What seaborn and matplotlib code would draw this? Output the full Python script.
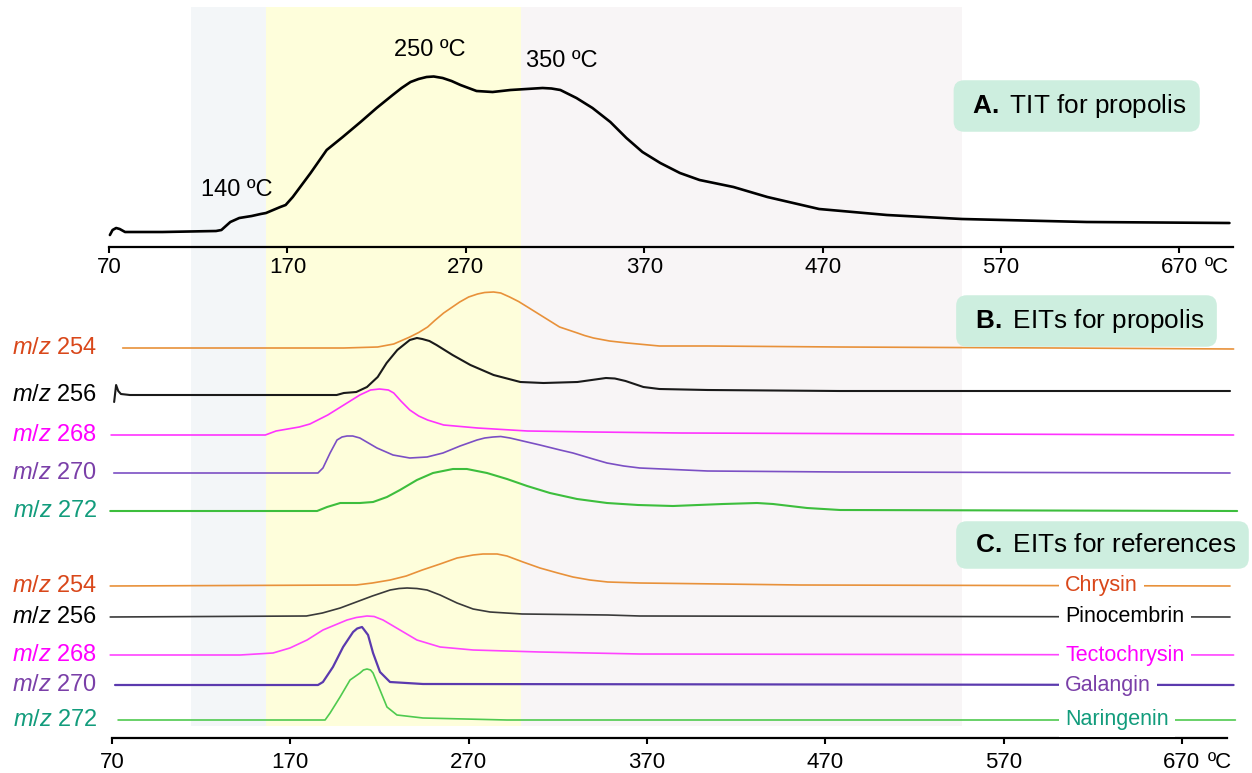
import numpy as np
import matplotlib
matplotlib.use("Agg")
import matplotlib.pyplot as plt
import seaborn as sns

# ---- A. TIT propolis (temperatura / intensywność) ----
tit_temp = [70.5, 72, 74, 76, 79, 100, 130, 133, 138, 143, 150, 155, 158, 162, 166,
            169, 173, 178, 183, 192, 201, 211, 220, 229, 234, 239, 243.5, 248, 252, 257,
            262, 267, 276, 285, 295, 304, 313, 318, 323, 332, 341, 351, 360, 369, 379,
            390, 401, 420, 439, 468, 487, 506, 548, 618, 698]
tit_int = [12, 17, 19, 18, 15, 15, 16, 17, 25, 29, 31, 33, 34, 37, 40,
           42, 50, 62, 74, 97, 110, 125, 139, 152, 159, 165, 168, 170, 170.5, 169,
           166, 162, 156, 155, 157, 158, 159, 158.5, 157, 149, 139, 125, 109, 95, 84,
           74, 67, 60, 50, 38, 35, 32, 28, 25, 24]

# ---- B. EIT propolis (intensywność względem własnej linii bazowej) ----
b254_temp = [76, 200, 219, 228, 237, 242, 247, 251, 256, 265, 270, 275, 279, 284, 288,
             293, 298, 303, 312, 321, 326, 331, 335, 340, 349, 359, 377, 404, 478, 600, 699]
b254_int = [0, 0, 1, 4, 11, 15.5, 21, 27.5, 35, 46, 51, 54, 55.5, 56, 55,
            51, 46.5, 41, 31, 21, 18, 15, 12.5, 10, 7, 5, 2, 2, 1, 0, -1]

b256_temp = [71.2, 72.3, 73.5, 75, 80, 196, 200, 207, 213, 219, 224, 230, 237, 241, 244,
             248, 252, 261, 271, 284, 299, 312, 331, 339, 347, 352, 358, 363, 368, 377,
             404, 478, 697]
b256_int = [-7, 10, 4, 1, 0, 0, 2, 3, 8, 18, 32, 45, 55, 57, 56,
            54, 50, 40, 30, 20, 13, 12, 13, 15, 17, 16.5, 14, 11, 8, 6,
            5, 4, 4]

b268_temp = [69.5, 156, 162, 175, 181, 191, 200, 209, 215, 220, 225, 228, 232, 237, 242,
             247, 256, 275, 303, 340, 389, 699]
b268_int = [0, 0, 4, 8, 11, 20, 30, 40, 45, 46, 45, 42, 34, 25, 19,
            15, 10, 7, 4, 3, 2, 0]

b270_temp = [71, 185.5, 188.3, 192.3, 196.2, 199, 201.8, 205, 209, 218.6, 227.6, 237,
             246.7, 255.6, 265.2, 274.7, 279, 283.7, 288, 293.2, 302.8, 310, 321.3, 328.5,
             339.8, 347.6, 357, 366, 404, 478, 697]
b270_int = [0, 0, 5, 20, 33, 36, 37, 37, 35, 25, 18, 15,
            16, 20, 27, 33, 35, 36, 36.5, 35, 31, 28, 23, 20,
            14, 10, 7, 5, 2, 1, 0]

b272_temp = [69, 185, 190.6, 198, 209, 216.4, 224.2, 231.5, 241, 250, 261.2, 269, 280.3,
             291.5, 302.8, 315.6, 330.8, 347.6, 365, 384.6, 412.7, 431.7, 440.7, 459.8,
             478.3, 701]
b272_int = [0, 0, 4, 8, 8, 9, 14, 21, 31, 38, 42, 42, 38, 32, 25, 18, 12, 8, 6, 5, 7, 8,
            7, 3, 1, 0]

# ---- C. EIT wzorców ----
c254_temp = [69, 207, 216, 226, 235, 244, 254, 263.5, 272.5, 278, 286, 291.5, 300.5, 310,
             320, 328.5, 338, 348, 366, 456, 697]
c254_int = [0, 1, 3, 6, 10, 16, 22, 28, 31, 32, 32, 30, 24, 18, 13, 9, 6, 4, 3, 1, 0]

c256_temp = [69, 179, 188, 198, 207, 216, 226, 231, 235.5, 241, 246.7, 254, 263.5, 272.5,
             282, 300, 348, 366, 697]
c256_int = [0, 1, 4, 9, 15, 21, 27, 28.5, 29, 28.5, 27, 22, 14, 8, 5, 3, 2, 1, 0]

c268_temp = [69, 141.8, 160.3, 169.8, 179.4, 188.3, 201.8, 207, 213, 217, 222, 231.5, 241,
             254, 272.5, 310, 366, 699]
c268_int = [0, 0, 2, 7, 15, 25, 35, 37.5, 39, 38.5, 35, 25, 15, 8, 5, 3, 1, 0]

c270_temp = [71.7, 185.5, 188.3, 193.9, 199.6, 205.2, 207.5, 210.2, 211.5, 213.6, 216.4,
             220.3, 225.9, 244.4, 699]
c270_int = [0, 0, 3, 18, 38, 53, 56.5, 58, 55, 50, 32, 13, 3, 1, 0]

c272_temp = [73.4, 189.5, 192.3, 197.9, 203.5, 209.1, 211, 213, 215, 216.4, 220.3, 224.2,
             229.8, 244.4, 291.5, 700]
c272_int = [0, 0, 7, 23, 40, 47, 50, 51, 50, 47, 30, 13, 5, 2, 0, 0]

mz_labels = ["254", "256", "268", "270", "272"]
compounds = ["Chrysin", "Pinocembrin", "Tectochrysin", "Galangin", "Naringenin"]
x_ticks = [70, 170, 270, 370, 470, 570, 670]
peak_notes = [(141.7, 57, "140 ºC"), (249.8, 197, "250 ºC"), (323.8, 186, "350 ºC")]
zones = [(116, 158, "#f3f6f8"), (158, 301, "#fefedb"), (301, 548, "#f8f5f6")]

# ---- styl ----
B_BASE = [390, 343, 303, 265, 227]
C_BASE = [152, 121, 83, 53, 18]
LINE_B = ["#e8913a", "#1a1a1a", "#ff33ff", "#7b4fc4", "#3dbe3d"]
LINE_C = ["#e8913a", "#3a3a3a", "#ff44ff", "#5b3aae", "#4fca4f"]
TEXT_COL = ["#d9471a", "#000000", "#ff00ff", "#7a3fa8", "#129c7c"]
BOX_COL = "#cdeedf"

sns.set_theme(style="white")
plt.rcParams["font.family"] = ["Liberation Sans", "DejaVu Sans"]
plt.rcParams["text.color"] = "black"
plt.rcParams["mathtext.fontset"] = "custom"
plt.rcParams["mathtext.rm"] = "Liberation Sans"
plt.rcParams["mathtext.it"] = "Liberation Sans:italic"
plt.rcParams["mathtext.bf"] = "Liberation Sans:bold"

W, H = 1252, 773
fig = plt.figure(figsize=(W / 100, H / 100), dpi=100)

# tło ze strefami temperatur (wspólne dla obu paneli)
ax_bg = fig.add_axes([109 / W, 47 / H, 1124 / W, 719 / H], zorder=0)
ax_bg.set_xlim(70, 700)
ax_bg.set_ylim(0, 1)
for x0, x1, col in zones:
    ax_bg.axvspan(x0, x1, color=col, lw=0)
ax_bg.axis("off")

ax_a = fig.add_axes([109 / W, 526 / H, 1124 / W, 240 / H], zorder=1)
ax_b = fig.add_axes([112 / W, 35 / H, 1115 / W, 463 / H], zorder=1)
ax_a.set_xlim(70, 700)
ax_a.set_ylim(0, 240)
ax_b.set_xlim(70, 695.3)
ax_b.set_ylim(0, 463)

TICK_LEN = 4
for ax, pad in [(ax_a, 3.5), (ax_b, 6)]:
    ax.patch.set_alpha(0)
    for s in ["left", "right", "top"]:
        ax.spines[s].set_visible(False)
    ax.spines["bottom"].set_linewidth(1.6)
    ax.spines["bottom"].set_color("black")
    ax.set_yticks([])
    ax.set_xticks(x_ticks)
    ax.set_xticklabels([str(t) for t in x_ticks])
    ax.tick_params(axis="x", direction="out", length=TICK_LEN, width=1.5, pad=pad,
                   labelsize=16, bottom=True, colors="black")
    ax.annotate("ºC", xy=(670, 0), xycoords=("data", "axes fraction"),
                xytext=(18.5, -(TICK_LEN + pad)), textcoords="offset points",
                ha="left", va="top", fontsize=16)
    ax.set_xlabel("")
    ax.set_ylabel("")

# A. TIT
sns.lineplot(x=tit_temp, y=tit_int, ax=ax_a, color="black", lw=1.9, clip_on=False)
for t, v, s in peak_notes:
    ax_a.text(t, v, s, ha="center", va="center", fontsize=17)
box = dict(boxstyle="round,pad=0.45,rounding_size=0.4", fc=BOX_COL, ec="none")
ax_a.text(550, 141, r" $\mathbf{A.}$ TIT for propolis ", ha="left", va="center",
          fontsize=18.8, bbox=box)

# B. EIT propolis
b_series = [(b254_temp, b254_int), (b256_temp, b256_int), (b268_temp, b268_int),
            (b270_temp, b270_int), (b272_temp, b272_int)]
for i, (tt, ii) in enumerate(b_series):
    lw = 1.5 if i in (1, 4) else 1.2
    sns.lineplot(x=tt, y=np.array(ii) + B_BASE[i], ax=ax_b, color=LINE_B[i], lw=lw,
                 clip_on=False)
    ax_b.text(61.6, B_BASE[i], r"$m/z$ " + mz_labels[i], ha="right", va="center",
              fontsize=17, color=TEXT_COL[i], clip_on=False)

# C. EIT wzorców
c_series = [(c254_temp, c254_int), (c256_temp, c256_int), (c268_temp, c268_int),
            (c270_temp, c270_int), (c272_temp, c272_int)]
for i, (tt, ii) in enumerate(c_series):
    lw = 1.6 if i == 3 else 1.2
    sns.lineplot(x=tt, y=np.array(ii) + C_BASE[i], ax=ax_b, color=LINE_C[i], lw=lw,
                 clip_on=False)
    ax_b.text(61.6, C_BASE[i], r"$m/z$ " + mz_labels[i], ha="right", va="center",
              fontsize=17, color=TEXT_COL[i], clip_on=False)
    ax_b.text(604.5, C_BASE[i], compounds[i], ha="left", va="center", fontsize=15.5,
              color=TEXT_COL[i], zorder=5,
              bbox=dict(boxstyle="square,pad=0.3", fc="white", ec="none"))

ax_b.text(550, 417, r" $\mathbf{B.}$ EITs for propolis ", ha="left", va="center",
          fontsize=18.8, bbox=box)
ax_b.text(550, 193, r" $\mathbf{C.}$ EITs for references ", ha="left", va="center",
          fontsize=18.8, bbox=box, zorder=6, clip_on=False)

fig.savefig("out.png", dpi=100)
